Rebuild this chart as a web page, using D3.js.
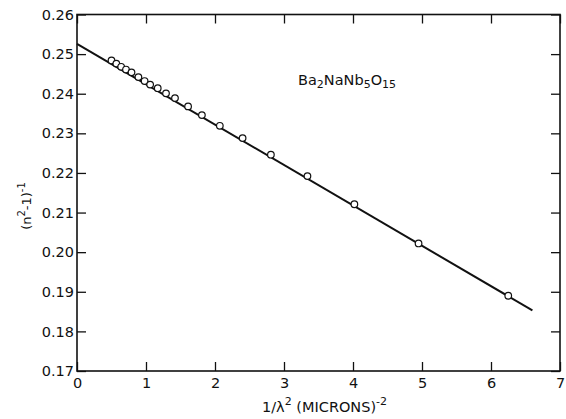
<!DOCTYPE html>
<html>
<head>
<meta charset="utf-8">
<script src="https://cdn.jsdelivr.net/npm/d3@7"></script>
<style>
  body { margin: 0; background: #fff; }
  text { font-family: "DejaVu Sans", sans-serif; fill: #111; }
</style>
</head>
<body>
<svg id="chart" width="566" height="419"></svg>
<script>
// measured points: x = 1/lambda^2 (microns^-2), y = (n^2-1)^-1
const invLambdaSq = [0.50, 0.57, 0.64, 0.71, 0.79, 0.89, 0.98, 1.06, 1.17, 1.29, 1.42, 1.61, 1.81, 2.07, 2.40, 2.81, 3.34, 4.02, 4.95, 6.25];
const invNsqMinus1 = [0.2484, 0.2476, 0.2468, 0.2461, 0.2454, 0.2442, 0.2432, 0.2423, 0.2414, 0.2401, 0.2389, 0.2368, 0.2346, 0.2319, 0.2288, 0.2246, 0.2192, 0.2121, 0.2022, 0.1890];

// fitted straight line, end points
const fitX = [0, 6.6];
const fitY = [0.2526, 0.1853];

const xTicks = [0, 1, 2, 3, 4, 5, 6, 7];
const yTicks = [0.17, 0.18, 0.19, 0.20, 0.21, 0.22, 0.23, 0.24, 0.25, 0.26];

const svg = d3.select("#chart");
const mLeft = 77, mRight = 560, mTop = 14.5, mBottom = 371;

const x = d3.scaleLinear().domain([0, 7]).range([mLeft, mRight]);
const y = d3.scaleLinear().domain([0.17, 0.26]).range([mBottom, mTop]);

// ---- axes (ticks point inward) ----
const tickLen = 9;
svg.append("g").attr("transform", `translate(0,${mBottom})`)
  .call(d3.axisBottom(x).tickValues(xTicks).tickSize(-tickLen).tickPadding(7).tickFormat(d3.format("d")))
  .call(g => g.select(".domain").remove());
svg.append("g").attr("transform", `translate(0,${mTop})`)
  .call(d3.axisTop(x).tickValues(xTicks).tickSize(-tickLen).tickFormat(""))
  .call(g => g.select(".domain").remove());
svg.append("g").attr("transform", `translate(${mLeft},0)`)
  .call(d3.axisLeft(y).tickValues(yTicks).tickSize(-tickLen).tickPadding(3).tickFormat(d3.format(".2f")))
  .call(g => g.select(".domain").remove());
svg.append("g").attr("transform", `translate(${mRight},0)`)
  .call(d3.axisRight(y).tickValues(yTicks).tickSize(-tickLen).tickFormat(""))
  .call(g => g.select(".domain").remove());

svg.selectAll(".tick line").attr("stroke", "#111").attr("stroke-width", 1.3);
svg.selectAll(".tick text").attr("font-size", 14.5).attr("fill", "#111")
  .attr("font-family", "DejaVu Sans, sans-serif");

// frame
svg.append("rect")
  .attr("x", mLeft).attr("y", mTop)
  .attr("width", mRight - mLeft).attr("height", mBottom - mTop)
  .attr("fill", "none").attr("stroke", "#111").attr("stroke-width", 1.6);

// ---- fit line ----
const line = d3.line().x(d => x(d[0])).y(d => y(d[1]));
svg.append("path")
  .datum(d3.zip(fitX, fitY))
  .attr("d", line)
  .attr("fill", "none").attr("stroke", "#111").attr("stroke-width", 2);

// ---- data points ----
svg.append("g").selectAll("circle")
  .data(d3.zip(invLambdaSq, invNsqMinus1))
  .enter().append("circle")
  .attr("cx", d => x(d[0]))
  .attr("cy", d => y(d[1]))
  .attr("r", 3.3)
  .attr("fill", "#fff").attr("stroke", "#111").attr("stroke-width", 1.2);

// ---- compound label ----
const comp = svg.append("text").attr("x", 298).attr("y", 85).attr("font-size", 14.5);
[["Ba", false], ["2", true], ["NaNb", false], ["5", true], ["O", false], ["15", true]].forEach(([t, sub]) => {
  comp.append("tspan").text(t)
    .attr("font-size", sub ? 11 : 14.5)
    .attr("dy", sub ? 3 : (t === "Ba" ? 0 : -3));
});

// ---- axis titles ----
const xt = svg.append("text").attr("x", 262).attr("y", 412).attr("font-size", 14.5);
xt.append("tspan").text("1/λ");
xt.append("tspan").text("2").attr("font-size", 11).attr("dy", -7);
xt.append("tspan").text(" (MICRONS)").attr("dy", 7);
xt.append("tspan").text("-2").attr("font-size", 11).attr("dy", -7);

const yt = svg.append("text")
  .attr("transform", "translate(31,206) rotate(-90)")
  .attr("text-anchor", "middle").attr("font-size", 13);
yt.append("tspan").text("(n");
yt.append("tspan").text("2").attr("font-size", 10).attr("dy", -6);
yt.append("tspan").text("-1)").attr("dy", 6);
yt.append("tspan").text("-1").attr("font-size", 10).attr("dy", -6);
</script>
</body>
</html>
